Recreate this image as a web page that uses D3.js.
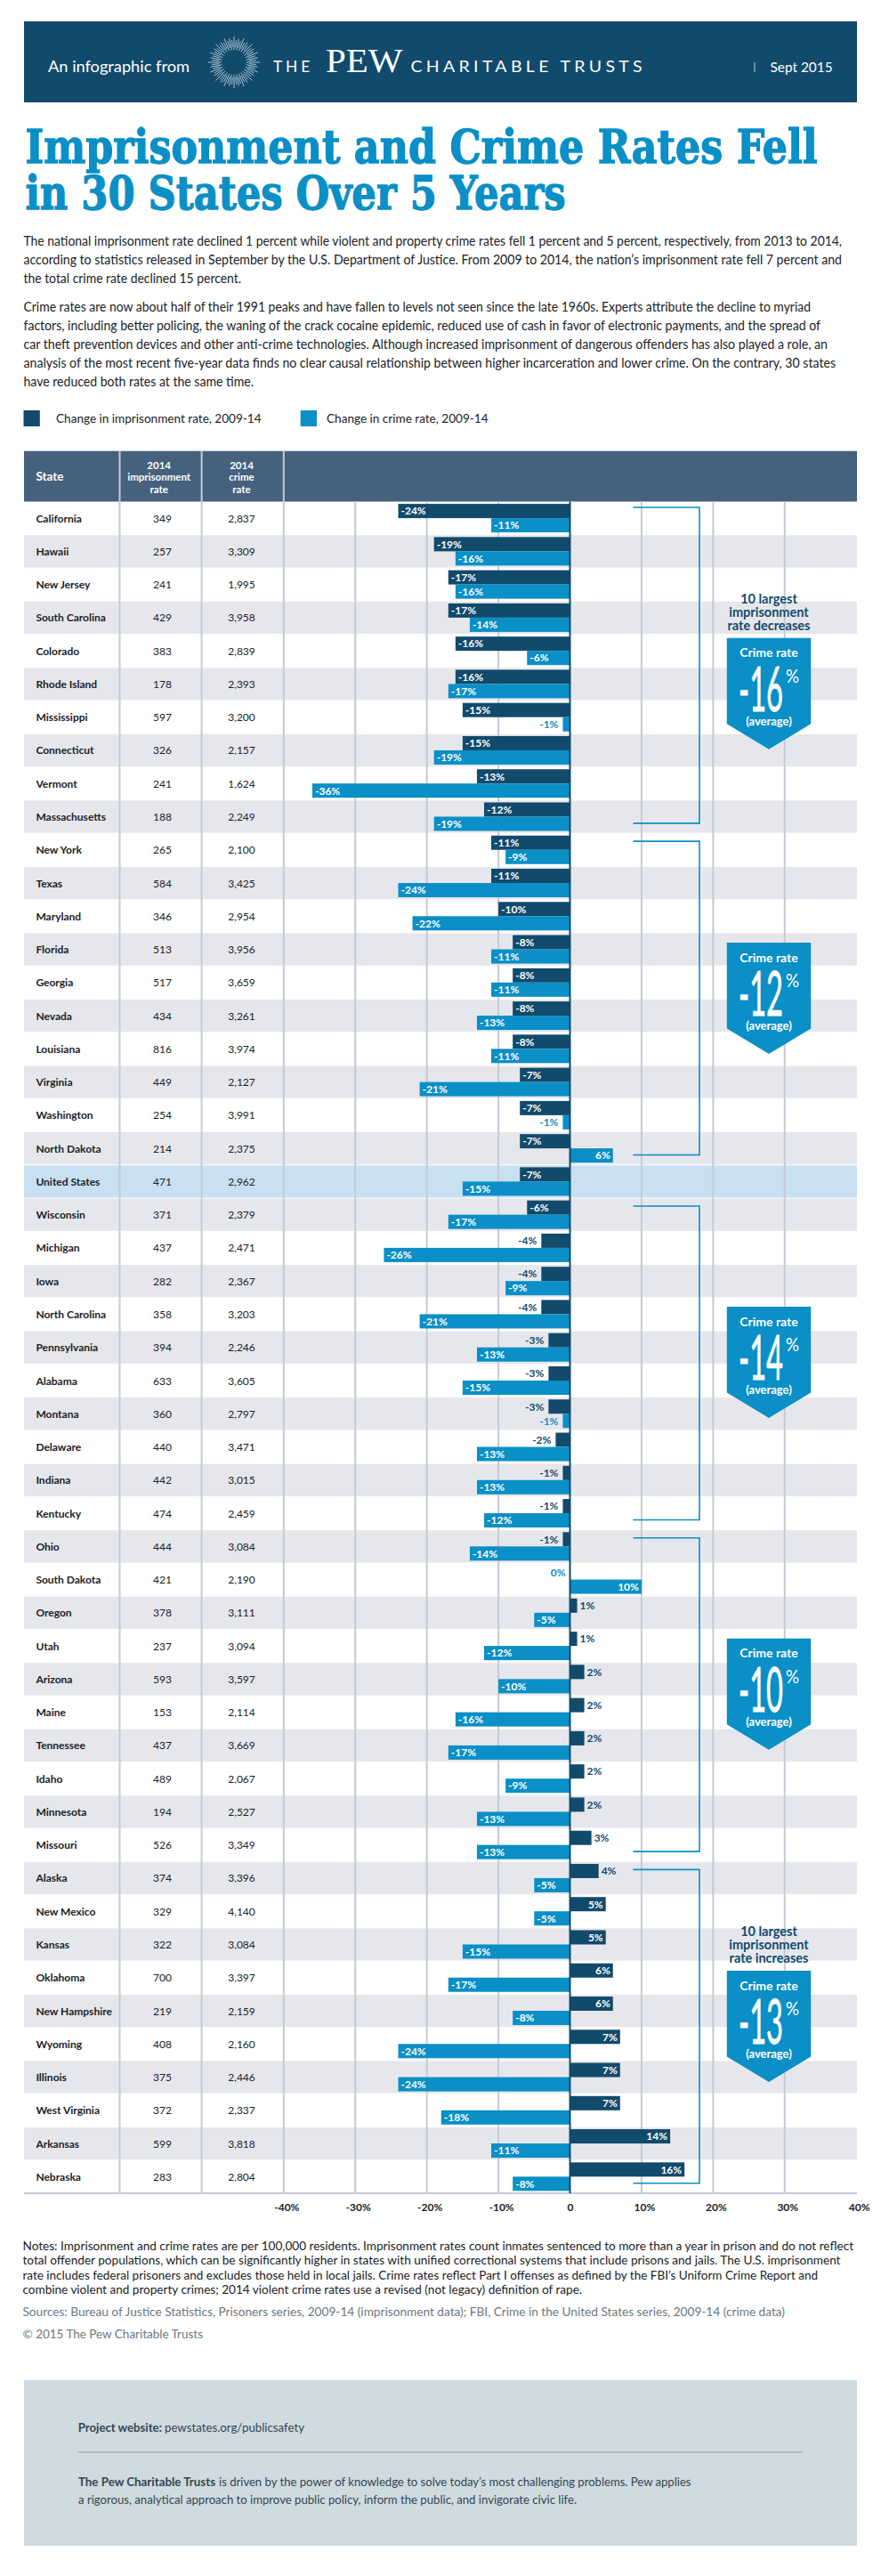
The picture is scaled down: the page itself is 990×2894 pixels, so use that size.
<!DOCTYPE html>
<html>
<head>
<meta charset="utf-8">
<script src="https://cdn.jsdelivr.net/npm/d3@7"></script>
<style>
html,body{margin:0;padding:0;background:#fff}
svg{display:block}
svg{font-family:Lato,"Open Sans",sans-serif}
</style>
</head>
<body>
<script>
// ---- data ----
const states = ["California","Hawaii","New Jersey","South Carolina","Colorado","Rhode Island","Mississippi","Connecticut","Vermont","Massachusetts","New York","Texas","Maryland","Florida","Georgia","Nevada","Louisiana","Virginia","Washington","North Dakota","United States","Wisconsin","Michigan","Iowa","North Carolina","Pennsylvania","Alabama","Montana","Delaware","Indiana","Kentucky","Ohio","South Dakota","Oregon","Utah","Arizona","Maine","Tennessee","Idaho","Minnesota","Missouri","Alaska","New Mexico","Kansas","Oklahoma","New Hampshire","Wyoming","Illinois","West Virginia","Arkansas","Nebraska"];
const imprisonmentRate = [349,257,241,429,383,178,597,326,241,188,265,584,346,513,517,434,816,449,254,214,471,371,437,282,358,394,633,360,440,442,474,444,421,378,237,593,153,437,489,194,526,374,329,322,700,219,408,375,372,599,283];
const crimeRate = [2837,3309,1995,3958,2839,2393,3200,2157,1624,2249,2100,3425,2954,3956,3659,3261,3974,2127,3991,2375,2962,2379,2471,2367,3203,2246,3605,2797,3471,3015,2459,3084,2190,3111,3094,3597,2114,3669,2067,2527,3349,3396,4140,3084,3397,2159,2160,2446,2337,3818,2804];
const imprisonmentChange = [-24,-19,-17,-17,-16,-16,-15,-15,-13,-12,-11,-11,-10,-8,-8,-8,-8,-7,-7,-7,-7,-6,-4,-4,-4,-3,-3,-3,-2,-1,-1,-1,0,1,1,2,2,2,2,2,3,4,5,5,6,6,7,7,7,14,16];
const crimeChange = [-11,-16,-16,-14,-6,-17,-1,-19,-36,-19,-9,-24,-22,-11,-11,-13,-11,-21,-1,6,-15,-17,-26,-9,-21,-13,-15,-1,-13,-13,-12,-14,10,-5,-12,-10,-16,-17,-9,-13,-13,-5,-5,-15,-17,-8,-24,-24,-18,-11,-8];
const axisTicks = [-40,-30,-20,-10,0,10,20,30,40];
const groupAverages = [-16,-12,-14,-10,-13];
const groupFirstState = ["California","New York","Wisconsin","Ohio","Alaska"];
const groupLastState = ["Massachusetts","North Dakota","Kentucky","Missouri","Nebraska"];
const groupHeadings = [["10 largest","imprisonment","rate decreases"],null,null,null,["10 largest","imprisonment","rate increases"]];
const titleLines = ["Imprisonment and Crime Rates Fell","in 30 States Over 5 Years"];
const introLines = ["The national imprisonment rate declined 1 percent while violent and property crime rates fell 1 percent and 5 percent, respectively, from 2013 to 2014,",
"according to statistics released in September by the U.S. Department of Justice. From 2009 to 2014, the nation\u2019s imprisonment rate fell 7 percent and",
"the total crime rate declined 15 percent.",
"Crime rates are now about half of their 1991 peaks and have fallen to levels not seen since the late 1960s. Experts attribute the decline to myriad",
"factors, including better policing, the waning of the crack cocaine epidemic, reduced use of cash in favor of electronic payments, and the spread of",
"car theft prevention devices and other anti-crime technologies. Although increased imprisonment of dangerous offenders has also played a role, an",
"analysis of the most recent five-year data finds no clear causal relationship between higher incarceration and lower crime. On the contrary, 30 states",
"have reduced both rates at the same time."];
const noteLines = ["Notes: Imprisonment and crime rates are per 100,000 residents. Imprisonment rates count inmates sentenced to more than a year in prison and do not reflect",
"total offender populations, which can be significantly higher in states with unified correctional systems that include prisons and jails. The U.S. imprisonment",
"rate includes federal prisoners and excludes those held in local jails. Crime rates reflect Part I offenses as defined by the FBI\u2019s Uniform Crime Report and",
"combine violent and property crimes; 2014 violent crime rates use a revised (not legacy) definition of rape."];
const sourceLine = "Sources: Bureau of Justice Statistics, Prisoners series, 2009-14 (imprisonment data); FBI, Crime in the United States series, 2009-14 (crime data)";
const copyrightLine = "\u00a9 2015 The Pew Charitable Trusts";
const aboutLines = ["is driven by the power of knowledge to solve today\u2019s most challenging problems. Pew applies","a rigorous, analytical approach to improve public policy, inform the public, and invigorate civic life."];

// ---- layout ----
const NAVY="#124a6b", BLUE="#0a8fc6", HEAD="#45617e", STRIPE="#e6e7ec", USROW="#c8e0f1", GRID="#c6cad7", INK="#1a2226";
const W=990,H=2894,L=27,R=963;
const introPos=[[275.7,946],[296.7,946],[317.5,271],[350,911],[371,922],[392,930],[413,939],[434,285]];
const notePos=[[2527.5,959],[2544,944.5],[2560.5,919],[2577,654]];
const calloutTops=[716.7,1059,1468,1840.7,2214];

const svg=d3.select("body").append("svg").attr("width",W).attr("height",H).attr("viewBox",`0 0 ${W} ${H}`);
svg.append("rect").attr("width",W).attr("height",H).attr("fill","#fff");

function fit(g,str,x,y,x2,o={}){
  const t=g.append("text").text(str).attr("x",x).attr("y",y)
   .attr("textLength",x2-x).attr("lengthAdjust","spacingAndGlyphs")
   .attr("font-size",o.size||14).attr("font-weight",o.weight||400)
   .attr("fill",o.fill||INK);
  if(o.family) t.style("font-family",o.family);
  return t;
}

// banner
const top_=svg.append("g");
top_.append("rect").attr("x",L).attr("y",24).attr("width",R-L).attr("height",91).attr("fill",NAVY);
fit(top_,"An infographic from",54,81,213,{size:18,fill:"#fff"});
const rays=d3.range(64);
top_.append("g").attr("transform","translate(263,70)").selectAll("line").data(rays).join("line")
  .attr("x1",d=>Math.cos(d/64*2*Math.PI)*(d%2?17:14))
  .attr("y1",d=>Math.sin(d/64*2*Math.PI)*(d%2?17:14))
  .attr("x2",d=>Math.cos(d/64*2*Math.PI)*(d%4==0?29:d%2?25:27))
  .attr("y2",d=>Math.sin(d/64*2*Math.PI)*(d%4==0?29:d%2?25:27))
  .attr("stroke","#b9d3e2").attr("stroke-width",0.9);
fit(top_,"THE",307,81,352,{size:18,fill:"#fff"}).attr("letter-spacing",4);
fit(top_,"PEW",366,81,452.6,{size:37,fill:"#fff",family:"'Liberation Serif',serif"});
fit(top_,"CHARITABLE TRUSTS",461.5,81,726,{size:18,fill:"#fff"}).attr("letter-spacing",4);
top_.append("line").attr("x1",848).attr("x2",848).attr("y1",70).attr("y2",81).attr("stroke","#b9d3e2");
fit(top_,"Sept 2015",865.5,81,935.6,{size:15,fill:"#fff"});

// title: drawn at full size, then condensed horizontally to the reference's line widths
titleLines.forEach((t,i)=>{
  const el=svg.append("text").text(t).attr("font-size",52).attr("font-weight",700)
    .attr("fill",BLUE).attr("stroke",BLUE).attr("stroke-width",1.3).style("font-family","'DejaVu Serif',serif");
  const target=[890.6,607.3][i];
  const k=target/el.node().getComputedTextLength();
  el.attr("transform",`translate(28.4,${[182.7,235][i]}) scale(${k},1)`);
});
// intro
introLines.forEach((t,i)=>fit(svg,t,26.5,introPos[i][0],introPos[i][1],{size:14.5}));

// legend
const legendItems=[["Change in imprisonment rate, 2009-14",NAVY,26.5,63,293.6],["Change in crime rate, 2009-14",BLUE,337.7,367,548.6]];
legendItems.forEach(([t,c,x0,x1,x2])=>{
  svg.append("rect").attr("x",x0).attr("y",461).attr("width",18.3).attr("height",18).attr("fill",c);
  fit(svg,t,x1,475,x2,{size:13.5});
});

// scales
const x=d3.scaleLinear().domain([-40,40]).range([318.8,962.2]);
const rowBand=d3.scaleBand().domain(states).range([563.5,2464]);
const rowH=rowBand.bandwidth();

// stripes
svg.append("g").selectAll("rect").data(states).join("rect")
  .attr("x",L).attr("width",R-L).attr("y",d=>rowBand(d)+0.5).attr("height",rowH-1)
  .attr("fill",(d,i)=>d==="United States"?USROW:(i%2?STRIPE:"#fff"));

// header band
svg.append("rect").attr("x",L).attr("y",506.7).attr("width",R-L).attr("height",56.8).attr("fill",HEAD);
const colLines=[134.5,226.6];
svg.append("g").selectAll("line").data(colLines).join("line")
  .attr("x1",d=>d).attr("x2",d=>d).attr("y1",506.7).attr("y2",2464).attr("stroke",GRID).attr("stroke-width",2);
svg.append("line").attr("x1",x(-40)).attr("x2",x(-40)).attr("y1",506.7).attr("y2",2464).attr("stroke",GRID).attr("stroke-width",2);

function headText(lines,cx){
  lines.forEach((t,i)=>{
    svg.append("text").text(t).attr("x",cx).attr("y",527+13.3*i).attr("text-anchor","middle")
     .attr("font-size",11.5).attr("font-weight",700).attr("fill","#fff");
  });
}
svg.append("text").text("State").attr("x",40.4).attr("y",540).attr("font-size",13.5).attr("font-weight",700).attr("fill","#fff");
headText(["2014","imprisonment","rate"],178.7);
headText(["2014","crime","rate"],271.5);

// grid + axis
const gridTicks=axisTicks.filter(d=>d!==0&&d!==-40&&d!==40);
svg.append("g").selectAll("line").data(gridTicks).join("line")
  .attr("x1",d=>x(d)).attr("x2",d=>x(d)).attr("y1",563.5).attr("y2",2464).attr("stroke",GRID).attr("stroke-width",2);
svg.append("line").attr("x1",L).attr("x2",R).attr("y1",2464).attr("y2",2464).attr("stroke",GRID).attr("stroke-width",2);
const axisG=svg.append("g").attr("transform","translate(0,2464)")
  .call(d3.axisBottom(x).tickValues(axisTicks).tickSize(0).tickPadding(11).tickFormat(d=>d===0?"0":d+"%"));
axisG.select(".domain").remove();
axisG.selectAll("text").style("font-family","Lato").attr("font-size",12).attr("font-weight",700).attr("fill",INK)
  .attr("dx",d=>d===0?0:3);

// row text
const rows=svg.append("g").selectAll("g").data(states).join("g").attr("transform",d=>`translate(0,${rowBand(d)+rowH/2+4.5})`);
rows.append("text").text(d=>d).attr("x",40.4).attr("font-size",12).attr("font-weight",700).attr("fill",INK);
rows.append("text").text((d,i)=>imprisonmentRate[i]).attr("x",182.5).attr("text-anchor","middle").attr("font-size",12).attr("fill",INK);
rows.append("text").text((d,i)=>d3.format(",")(crimeRate[i])).attr("x",271.5).attr("text-anchor","middle").attr("font-size",12).attr("fill",INK);

// bars
function series(vals,color,off,zeroColor){
  const g=svg.append("g");
  g.selectAll("rect").data(vals).join("rect")
    .attr("x",d=>Math.min(x(d),x(0))).attr("width",d=>Math.abs(x(d)-x(0)))
    .attr("y",(d,i)=>rowBand(states[i])+off).attr("height",16).attr("fill",color);
  g.selectAll("text").data(vals).join("text")
    .text(d=>d+"%")
    .attr("y",(d,i)=>rowBand(states[i])+off+12.3)
    .attr("font-size",12).attr("font-weight",700)
    .attr("x",d=>{
      const inside=Math.abs(d)>=5;
      if(d<=0) return inside? x(d)+3 : x(d)-5;
      return inside? x(d)-3 : x(d)+3;
    })
    .attr("text-anchor",d=>{
      const inside=Math.abs(d)>=5;
      if(d<=0) return inside?"start":"end";
      return inside?"end":"start";
    })
    .attr("fill",d=>Math.abs(d)>=5?"#fff":(d===0?zeroColor:color));
}
series(imprisonmentChange,NAVY,2.6,BLUE);
series(crimeChange,BLUE,18.6,BLUE);

// zero line
svg.append("line").attr("x1",x(0)).attr("x2",x(0)).attr("y1",563.5).attr("y2",2464).attr("stroke",NAVY).attr("stroke-width",2);

// brackets
const bracketX0=711.5, bracketX1=786;
groupFirstState.forEach((s,i)=>{
  const y0=rowBand(s)+(i===0?6.5:9);
  const y1=rowBand(groupLastState[i])+26;
  svg.append("path").attr("fill","none").attr("stroke",BLUE).attr("stroke-width",1.6)
    .attr("d",d3.line()([[bracketX0,y0],[bracketX1,y0],[bracketX1,y1],[bracketX0,y1]]));
});

// callouts
const cx=864, hw=47.2;
groupAverages.forEach((v,i)=>{
  const t=calloutTops[i];
  const g=svg.append("g");
  g.append("path").attr("fill",BLUE)
    .attr("d",d3.line()([[cx-hw,t],[cx+hw,t],[cx+hw,t+96.5],[cx,t+125],[cx-hw,t+96.5]])+"Z");
  g.append("text").text("Crime rate").attr("x",cx).attr("y",t+21.5).attr("text-anchor","middle")
    .attr("fill","#fff").attr("font-size",14).attr("font-weight",700);
  fit(g,String(v),830,t+82,880,{size:69,fill:"#fff"}).attr("stroke","#fff").attr("stroke-width",0.8);
  fit(g,"%",883,t+50,898,{size:22,fill:"#fff"});
  g.append("text").text("(average)").attr("x",cx).attr("y",t+98).attr("text-anchor","middle")
    .attr("fill","#fff").attr("font-size",13).attr("font-weight",700);
  if(groupHeadings[i]){
    groupHeadings[i].forEach((l,k)=>{
      svg.append("text").text(l).attr("x",cx).attr("y",t-39+15*k).attr("text-anchor","middle")
       .attr("fill",NAVY).attr("font-size",14.5).attr("font-weight",700);
    });
  }
});

// notes
noteLines.forEach((t,i)=>fit(svg,t,25.5,notePos[i][0],notePos[i][1],{size:13.5}));
fit(svg,sourceLine,25.5,2602,882,{size:13.5,fill:"#6e787e"});
fit(svg,copyrightLine,25.5,2627,228,{size:13.5,fill:"#6e787e"});

// footer
svg.append("rect").attr("x",L).attr("y",2674).attr("width",R-L).attr("height",186).attr("fill","#cfdae1");
fit(svg,"Project website:",87.7,2731.7,182,{size:13,weight:700,fill:"#36454e"});
fit(svg,"pewstates.org/publicsafety",185,2731.7,342,{size:13,fill:"#36454e"});
svg.append("line").attr("x1",87.7).attr("x2",902).attr("y1",2755).attr("y2",2755).attr("stroke","#95a4ad").attr("stroke-width",1.2);
fit(svg,"The Pew Charitable Trusts",88,2793,242,{size:13.5,weight:700,fill:"#36454e"});
fit(svg,aboutLines[0],246,2793,776.5,{size:13.5,fill:"#36454e"});
fit(svg,aboutLines[1],88,2813,648,{size:13.5,fill:"#36454e"});
</script>
</body>
</html>
